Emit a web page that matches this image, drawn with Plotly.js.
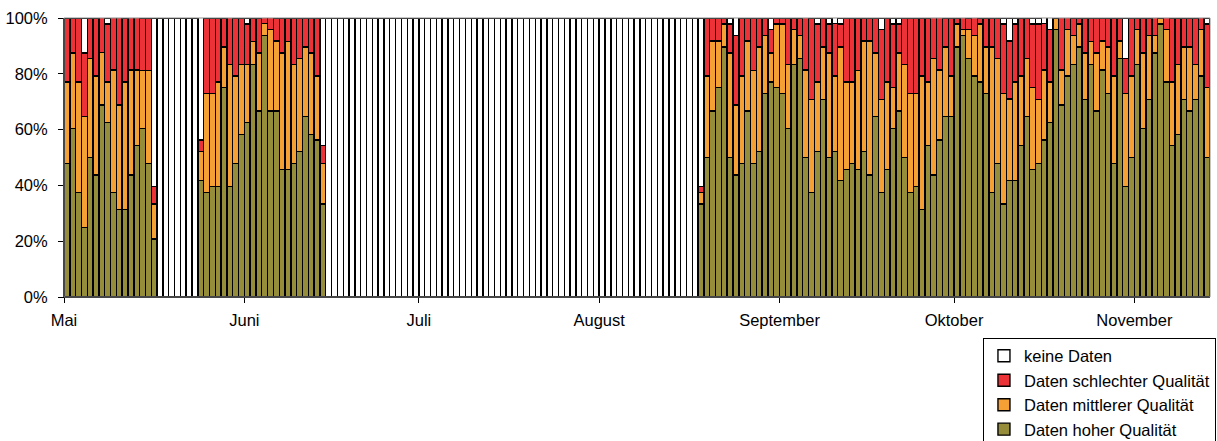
<!DOCTYPE html>
<html>
<head>
<meta charset="utf-8">
<script src="https://cdn.plot.ly/plotly-3.0.1.min.js"></script>
<style>
html,body{margin:0;padding:0;background:#ffffff;}
#chart{width:1217px;height:441px;}
</style>
</head>
<body>
<div id="chart"></div>
<script>
const _ = null;

// first day of the daily series, and axis ticks
const startDate = [2008, 4, 1];
const monthTickDates = ['2008-05-01','2008-06-01','2008-07-01','2008-08-01','2008-09-01','2008-10-01','2008-11-01'];
const monthLabels = ['Mai','Juni','Juli','August','September','Oktober','November'];
const percentTicks = [0, 20, 40, 60, 80, 100];
const percentLabels = ['0%','20%','40%','60%','80%','100%'];

const nameHigh = 'Daten hoher Qualität';
const nameMedium = 'Daten mittlerer Qualität';
const nameBad = 'Daten schlechter Qualität';
const nameNone = 'keine Daten';

// daily shares in percent (one value per day, May 1 .. Nov 13)
const high = [
  // Mai
  47.9,60.4,37.5,25.0,50.0,43.8,68.8,62.5,37.5,31.3,31.3,43.8,54.2,60.4,47.9,20.8,_,_,_,_,_,_,_,41.7,37.5,39.6,39.6,75.0,39.6,47.9,58.3,
  // Juni
  62.5,83.3,66.7,93.8,66.7,66.7,45.8,45.8,47.9,52.1,64.6,58.3,56.3,33.3,_,_,_,_,_,_,_,_,_,_,_,_,_,_,_,_,
  // Juli
  _,_,_,_,_,_,_,_,_,_,_,_,_,_,_,_,_,_,_,_,_,_,_,_,_,_,_,_,_,_,_,
  // August
  _,_,_,_,_,_,_,_,_,_,_,_,_,_,_,_,_,33.3,50.0,66.7,75.0,89.6,50.0,43.8,47.9,66.7,47.9,52.1,72.9,77.1,75.0,
  // September
  72.9,60.4,83.3,85.4,50.0,37.5,52.1,70.8,50.0,52.1,41.7,45.8,47.9,45.8,52.1,43.8,64.6,37.5,45.8,60.4,66.7,50.0,37.5,39.6,31.3,54.2,43.8,56.3,64.6,64.6,
  // Oktober
  89.6,93.8,85.4,79.2,77.1,72.9,37.5,47.9,33.3,41.7,41.7,54.2,64.6,45.8,47.9,56.3,62.5,95.8,68.8,79.2,83.3,89.6,70.8,83.3,66.7,81.3,72.9,47.9,85.4,39.6,50.0,
  // November
  83.3,60.4,70.8,87.5,97.9,77.1,54.2,58.3,70.8,66.7,70.8,79.2,50.0
];
const medium = [
  29.2,27.1,39.6,39.6,35.4,35.4,18.8,14.6,43.8,37.5,45.8,37.5,27.1,20.8,33.3,12.5,_,_,_,_,_,_,_,10.4,35.4,33.3,37.5,14.6,43.8,31.3,25.0,
  20.8,8.3,20.8,4.2,29.2,25.0,41.7,45.8,35.4,33.3,25.0,29.2,22.9,14.6,_,_,_,_,_,_,_,_,_,_,_,_,_,_,_,_,
  _,_,_,_,_,_,_,_,_,_,_,_,_,_,_,_,_,_,_,_,_,_,_,_,_,_,_,_,_,_,_,
  _,_,_,_,_,_,_,_,_,_,_,_,_,_,_,_,_,4.2,29.2,25.0,16.7,8.3,37.5,25.0,31.3,25.0,33.3,37.5,20.8,10.4,22.9,
  25.0,22.9,12.5,8.3,31.3,33.3,25.0,18.8,37.5,27.1,47.9,31.3,29.2,35.4,39.6,47.9,22.9,33.3,31.3,14.6,20.8,33.3,35.4,33.3,47.9,22.9,41.7,25.0,25.0,14.6,
  8.3,2.1,10.4,14.6,20.8,16.7,52.1,37.5,39.6,29.2,35.4,25.0,20.8,29.2,22.9,25.0,14.6,4.2,12.5,16.7,10.4,8.3,16.7,8.3,20.8,10.4,16.7,31.3,6.3,33.3,29.2,
  12.5,27.1,22.9,6.3,2.1,18.8,22.9,25.0,18.8,22.9,12.5,16.7,25.0
];
const bad = [
  22.9,12.5,22.9,22.9,14.6,20.8,12.5,20.8,18.8,31.3,22.9,18.8,18.8,18.8,18.8,6.3,_,_,_,_,_,_,_,4.2,27.1,27.1,22.9,10.4,16.7,20.8,16.7,
  14.6,8.3,12.5,2.1,4.2,8.3,12.5,8.3,16.7,14.6,10.4,12.5,20.8,6.3,_,_,_,_,_,_,_,_,_,_,_,_,_,_,_,_,
  _,_,_,_,_,_,_,_,_,_,_,_,_,_,_,_,_,_,_,_,_,_,_,_,_,_,_,_,_,_,_,
  _,_,_,_,_,_,_,_,_,_,_,_,_,_,_,_,_,2.1,20.8,8.3,8.3,2.1,10.4,25.0,20.8,8.3,18.8,10.4,6.3,8.3,2.1,
  2.1,16.7,4.2,6.3,18.8,29.2,20.8,10.4,10.4,18.8,8.3,22.9,22.9,18.8,8.3,8.3,12.5,25.0,22.9,22.9,10.4,16.7,27.1,27.1,20.8,22.9,14.6,18.8,10.4,20.8,
  2.1,4.2,4.2,6.3,2.1,10.4,10.4,14.6,25.0,20.8,20.8,20.8,14.6,22.9,27.1,16.7,18.8,_,18.8,4.2,6.3,2.1,12.5,8.3,12.5,8.3,10.4,20.8,8.3,12.5,20.8,
  4.2,12.5,6.3,6.3,_,4.2,22.9,16.7,10.4,10.4,16.7,4.2,22.9
];
const none = [
  _,_,_,12.5,_,_,_,2.1,_,_,_,_,_,_,_,60.4,100,100,100,100,100,100,100,43.8,_,_,_,_,_,_,_,
  2.1,_,_,_,_,_,_,_,_,_,_,_,_,45.8,100,100,100,100,100,100,100,100,100,100,100,100,100,100,100,100,
  100,100,100,100,100,100,100,100,100,100,100,100,100,100,100,100,100,100,100,100,100,100,100,100,100,100,100,100,100,100,100,
  100,100,100,100,100,100,100,100,100,100,100,100,100,100,100,100,100,60.4,_,_,_,_,2.1,6.3,_,_,_,_,_,4.2,_,
  _,_,_,_,_,_,2.1,_,2.1,2.1,2.1,_,_,_,_,_,_,4.2,_,2.1,2.1,_,_,_,_,_,_,_,_,_,
  _,_,_,_,_,_,_,_,2.1,8.3,2.1,_,_,2.1,2.1,2.1,4.2,_,_,_,_,_,_,_,_,_,_,_,_,14.6,_,
  _,_,_,_,_,_,_,_,_,_,_,_,2.1
];

// one date (noon) per value
const days = high.map((v, i) => {
  const t = Date.UTC(startDate[0], startDate[1], startDate[2]) + i * 86400000;
  return new Date(t).toISOString().slice(0, 10) + ' 12:00';
});

const DAY_MS = 86400000;
const outline = {color: '#000000', width: 1.4};

function barTrace(name, values, color, group) {
  return {
    type: 'bar',
    name: name,
    x: days,
    y: values,
    width: DAY_MS,
    legendgroup: group,
    marker: {color: color, line: outline},
    hoverinfo: 'x+y+name'
  };
}

const data = [
  barTrace(nameHigh, high, '#968D3B', 'g1'),
  barTrace(nameMedium, medium, '#F5A034', 'g2'),
  barTrace(nameBad, bad, '#EC3237', 'g3'),
  barTrace(nameNone, none, '#FFFFFF', 'g4')
];

const layout = {
  width: 1217,
  height: 441,
  margin: {l: 64, r: 7, t: 18, b: 144, pad: 0, autoexpand: false},
  barmode: 'stack',
  bargap: 0,
  paper_bgcolor: '#ffffff',
  plot_bgcolor: '#ffffff',
  font: {family: 'Liberation Sans, Arial, sans-serif', size: 16.5, color: '#000000'},
  showlegend: true,
  xaxis: {
    type: 'date',
    range: ['2008-05-01', '2008-11-14'],
    tickmode: 'array',
    tickvals: monthTickDates,
    ticktext: monthLabels,
    ticks: 'outside',
    ticklen: 5,
    tickwidth: 1,
    tickcolor: '#000000',
    showline: true,
    linecolor: '#000000',
    linewidth: 1,
    showgrid: false,
    zeroline: false,
    ticklabelstandoff: 3,
    tickfont: {size: 16.5, color: '#000000'},
    fixedrange: true
  },
  yaxis: {
    range: [0, 100],
    tickmode: 'array',
    tickvals: percentTicks,
    ticktext: percentLabels,
    ticks: 'outside',
    ticklen: 5,
    tickwidth: 1,
    tickcolor: '#000000',
    showline: true,
    linecolor: '#000000',
    linewidth: 1,
    showgrid: false,
    zeroline: false,
    ticklabelstandoff: 7,
    tickfont: {size: 16.5, color: '#000000'},
    fixedrange: true
  },
  legend: {
    x: 1.0052,
    xanchor: 'right',
    y: -0.1455,
    yanchor: 'top',
    traceorder: 'reversed',
    tracegroupgap: 5,
    bgcolor: '#ffffff',
    bordercolor: '#000000',
    borderwidth: 1,
    font: {size: 16.5, color: '#000000'},
    itemclick: false,
    itemdoubleclick: false
  },
  shapes: [{
    type: 'rect', xref: 'paper', yref: 'paper',
    x0: 0, x1: 1, y0: 0, y1: 1,
    line: {color: '#8c8c8c', width: 1},
    layer: 'above'
  }]
};

Plotly.newPlot('chart', data, layout, {displayModeBar: false, staticPlot: true});
</script>
</body>
</html>
